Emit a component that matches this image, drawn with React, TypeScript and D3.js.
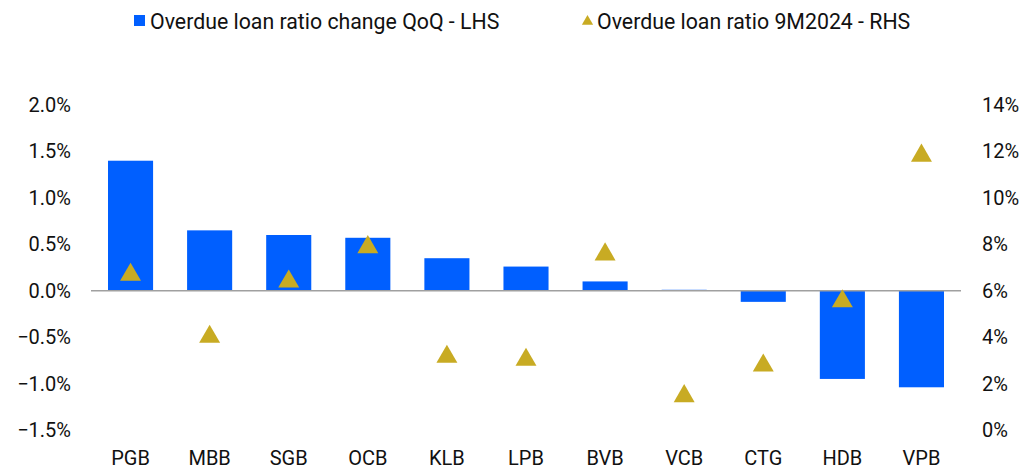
import React from "react";
import * as d3 from "d3";

const banks = ["PGB", "MBB", "SGB", "OCB", "KLB", "LPB", "BVB", "VCB", "CTG", "HDB", "VPB"];
// QoQ change in overdue loan ratio, % (left axis)
const changeQoQ = [1.4, 0.65, 0.6, 0.57, 0.35, 0.26, 0.1, 0.01, -0.12, -0.95, -1.04];
// overdue loan ratio 9M2024, % (right axis)
const ratio9M = [6.75, 4.08, 6.46, 7.94, 3.22, 3.09, 7.63, 1.52, 2.84, 5.61, 11.88];
const leftTicks = [-1.5, -1.0, -0.5, 0, 0.5, 1.0, 1.5, 2.0];
const rightTicks = [0, 2, 4, 6, 8, 10, 12, 14];

const W = 1024;
const H = 467;
const BLUE = "#005FFF";
const GOLD = "#C8AB23";
const FONT = "Roboto, 'Noto Sans', sans-serif";

const App = () => {
  const x = d3.scaleBand().domain(banks).range([91, 961]).paddingInner(0.43).paddingOuter(0.215);
  const yL = d3.scaleLinear().domain([-1.5, 2.0]).range([430, 105]);
  const yR = d3.scaleLinear().domain([0, 14]).range([430, 105]);
  const tri = d3.symbol().type(d3.symbolTriangle).size(190);
  const triSmall = d3.symbol().type(d3.symbolTriangle).size(55);

  return (
    <svg width={W} height={H} style={{ position: "absolute", left: 0, top: 0 }} fontFamily={FONT}>
      {/* legend */}
      <rect x={134} y={15} width={11} height={11} fill={BLUE} />
      <text x={150} y={21} fontSize={21.3} dominantBaseline="central" fill="#111">
        Overdue loan ratio change QoQ - LHS
      </text>
      <path d={triSmall()!} transform="translate(587.5,21.5)" fill={GOLD} />
      <text x={597} y={21} fontSize={21.3} dominantBaseline="central" fill="#111">
        Overdue loan ratio 9M2024 - RHS
      </text>

      {/* left axis labels */}
      {leftTicks.map((t) => (
        <text key={"l" + t} x={71} y={yL(t)} fontSize={20} textAnchor="end" dominantBaseline="central" fill="#111">
          {d3.format(".1f")(t) + "%"}
        </text>
      ))}
      {/* right axis labels */}
      {rightTicks.map((t) => (
        <text key={"r" + t} x={982} y={yR(t)} fontSize={20} textAnchor="start" dominantBaseline="central" fill="#111">
          {t + "%"}
        </text>
      ))}

      {/* bars */}
      {banks.map((b, i) => {
        const v = changeQoQ[i];
        const y0 = yL(0);
        const y1 = yL(v);
        return (
          <rect
            key={"b" + b}
            x={x(b)}
            y={Math.min(y0, y1)}
            width={x.bandwidth()}
            height={Math.max(Math.abs(y1 - y0), 1)}
            fill={BLUE}
          />
        );
      })}

      {/* zero line */}
      <line x1={91} x2={961} y1={yL(0)} y2={yL(0)} stroke="#A0A0A0" strokeWidth={1.5} />

      {/* triangles */}
      {banks.map((b, i) => (
        <path
          key={"t" + b}
          d={tri()!}
          transform={`translate(${x(b)! + x.bandwidth() / 2},${yR(ratio9M[i]) + 1.5})`}
          fill={GOLD}
        />
      ))}

      {/* category labels */}
      {banks.map((b) => (
        <text key={"c" + b} x={x(b)! + x.bandwidth() / 2} y={457.5} fontSize={20} textAnchor="middle" dominantBaseline="central" fill="#111">
          {b}
        </text>
      ))}
    </svg>
  );
};

export default App;
